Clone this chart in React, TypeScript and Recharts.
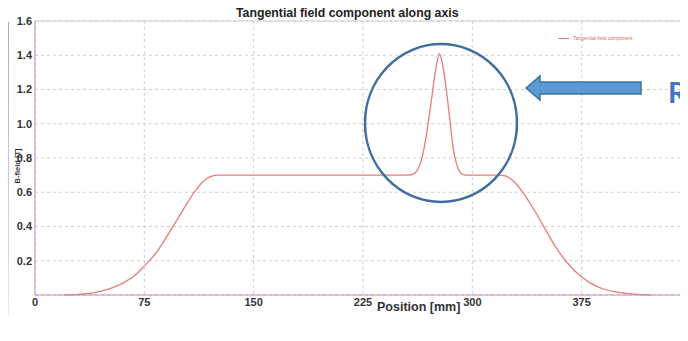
import { LineChart, Line, XAxis, YAxis, CartesianGrid, ReferenceLine } from "recharts";

const positions = [
  20, 30, 40, 50, 60, 70, 75, 80, 85, 90, 95, 100, 105, 110, 115, 120, 125,
  255, 259, 262, 264, 266, 268, 270, 272, 274, 276, 277.5, 279, 281, 283, 285, 287, 289, 291, 293, 296,
  318, 322, 326, 330, 335, 340, 345, 350, 355, 360, 365, 370, 375, 380, 385, 390, 397, 405, 413, 423,
];
const field = [
  0, 0.004, 0.013, 0.033, 0.068, 0.125, 0.17, 0.215, 0.27, 0.335, 0.405, 0.475, 0.545, 0.61, 0.66, 0.69, 0.7,
  0.7, 0.705, 0.725, 0.76, 0.82, 0.91, 1.02, 1.14, 1.27, 1.37, 1.41, 1.37, 1.27, 1.14, 0.99, 0.85, 0.77, 0.725, 0.705, 0.7,
  0.7, 0.697, 0.68, 0.65, 0.595, 0.53, 0.46, 0.385, 0.31, 0.245, 0.19, 0.143, 0.105, 0.075, 0.052, 0.035, 0.02, 0.01, 0.004, 0,
];
const xTicks = [0, 75, 150, 225, 300, 375, 450];
const yTicks = [0.2, 0.4, 0.6, 0.8, 1.0, 1.2, 1.4, 1.6];

const data = positions.map((x, i) => ({ x, b: field[i] }));

const FONT = "'Liberation Sans', Arial, sans-serif";
const tickStyle = { fill: "#333", fontSize: 11, fontWeight: 700, fontFamily: FONT };

export default function App() {
  return (
    <div style={{ position: "relative", width: 688, height: 341, margin: -8, overflow: "hidden", background: "#fff" }}>
      <div
        style={{
          position: "absolute", left: 0, top: 22, width: 9, height: 293,
          background: "linear-gradient(#a3abbd, #e6e8ec)",
        }}
      />
      <div style={{ position: "absolute", left: 0, top: 328, width: 3, height: 13, background: "#86d8f0" }} />

      <LineChart width={700} height={341} data={data} margin={{ top: 21, right: 9, left: 0, bottom: 0 }}>
        <CartesianGrid stroke="#cfcfcf" strokeDasharray="3 3" />
        <ReferenceLine y={1.6} stroke="#cfcfcf" />
        <XAxis
          dataKey="x"
          type="number"
          domain={[0, 450]}
          ticks={xTicks}
          height={46}
          stroke="#c98bbd"
          tick={tickStyle}
          tickLine={false}
          tickSize={0}
          tickMargin={3}
        />
        <YAxis
          type="number"
          domain={[0, 1.6]}
          ticks={yTicks}
          width={35}
          stroke="#c98bbd"
          tick={tickStyle}
          tickFormatter={(v) => v.toFixed(1)}
          tickLine={false}
          tickSize={0}
          tickMargin={3}
        />
        <Line
          type="monotone"
          dataKey="b"
          name="Tangential field component"
          stroke="#e87b7b"
          strokeWidth={1.3}
          dot={false}
          isAnimationActive={false}
        />
      </LineChart>

      <div
        style={{
          position: "absolute", left: 377, top: 300, fontFamily: FONT, fontSize: 12.5,
          fontWeight: 700, color: "#333", whiteSpace: "nowrap",
        }}
      >
        Position [mm]
      </div>

      <div
        style={{
          position: "absolute", left: 17, top: 166, transform: "translate(-50%, -50%) rotate(-90deg)",
          fontFamily: FONT, fontSize: 7.5, fontWeight: 700, color: "#333", whiteSpace: "nowrap",
        }}
      >
        B-field [T]
      </div>

      <div style={{ position: "absolute", left: 558, top: 35, display: "flex", alignItems: "center", gap: 4 }}>
        <div style={{ width: 11, height: 1, background: "#e87b7b" }} />
        <span style={{ fontFamily: FONT, fontSize: 5, color: "#e06a6a", whiteSpace: "nowrap" }}>
          Tangential field component
        </span>
      </div>

      <svg width={688} height={341} style={{ position: "absolute", left: 0, top: 0, pointerEvents: "none" }}>
        <text x={236} y={17} fill="#222" fontFamily={FONT} fontWeight={700} fontSize={12.3}>
          Tangential field component along axis
        </text>
        <ellipse cx={441} cy={123} rx={76} ry={79} fill="none" stroke="#3f6f9f" strokeWidth={2.5} />
        <polygon
          points="526,88 540,76 540,82 641,82 641,94 540,94 540,100"
          fill="#5b9bd5"
          stroke="#41719c"
          strokeWidth={1.5}
        />
        <text x={668} y={103} fill="#4472c4" fontFamily="Lato, sans-serif" fontWeight={700} fontSize={29}>
          Re
        </text>
      </svg>
    </div>
  );
}
